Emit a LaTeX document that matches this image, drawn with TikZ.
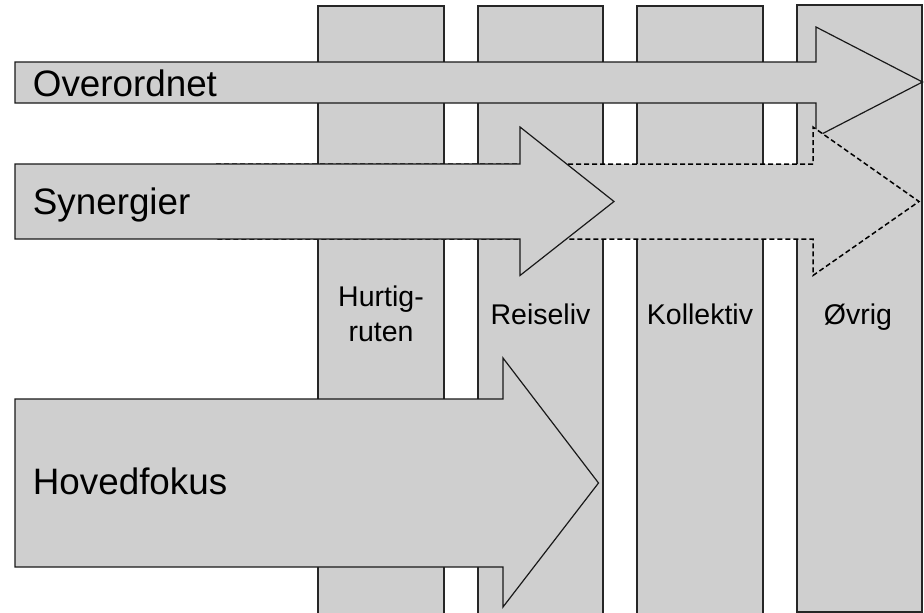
\documentclass[tikz,border=0pt]{standalone}
\usepackage{fontspec}
\setmainfont{Liberation Sans}
\definecolor{boxgray}{RGB}{207,207,207}
\begin{document}
\begin{tikzpicture}[x=1pt,y=-1pt,
  colbox/.style={fill=boxgray,draw=black!85,line width=1.2pt},
  arrowshape/.style={fill=boxgray,draw=black!90,line width=1.2pt,line join=miter},
  dasharrow/.style={draw=black,line width=1.5pt,dash pattern=on 5pt off 3pt},
  bigtext/.style={anchor=base west,font=\fontsize{36.8}{40}\selectfont,inner sep=0pt},
  coltext/.style={anchor=base,font=\fontsize{28.5}{34}\selectfont,inner sep=0pt}]
\useasboundingbox (0,0) rectangle (924,613);
% columns
\draw[colbox] (318,6) rectangle (444,616);
\draw[colbox] (478,6) rectangle (603,616);
\draw[colbox] (637,6) rectangle (763,616);
\draw[colbox] (797,5) rectangle (922,612);
% Overordnet arrow
\draw[arrowshape] (15,62) -- (816,62) -- (816,27) -- (922.5,82) -- (816,137) -- (816,103) -- (15,103) -- cycle;
% dashed synergier continuation
\fill[boxgray] (216,164) -- (813,164) -- (813,127) -- (919,201.5) -- (813,275.5) -- (813,239) -- (216,239) -- cycle;
\draw[dasharrow] (216,164) -- (813,164) -- (813,127) -- (919,201.5) -- (813,275.5) -- (813,239) -- (216,239);
% Synergier arrow
\draw[arrowshape] (15,164) -- (520,164) -- (520,127) -- (614,201.5) -- (520,275.5) -- (520,239) -- (15,239) -- cycle;
% Hovedfokus arrow
\draw[arrowshape] (15,399) -- (503,399) -- (503,358) -- (598.5,483) -- (503,607) -- (503,567) -- (15,567) -- cycle;
% labels
\node[bigtext] (ov) at (32.7,96) {Overordnet};
\node[bigtext] (sy) at (32.7,214.3) {Synergier};
\node[bigtext] (ho) at (32.7,494) {Hovedfokus};
\node[coltext] (hu1) at (381,306) {Hurtig-};
\node[coltext] (hu2) at (381,341.7) {ruten};
\node[coltext] (re) at (540.5,324) {Reiseliv};
\node[coltext] (ko) at (700,324) {Kollektiv};
\node[coltext] (oe) at (858,324) {Øvrig};
\end{tikzpicture}
\end{document}
